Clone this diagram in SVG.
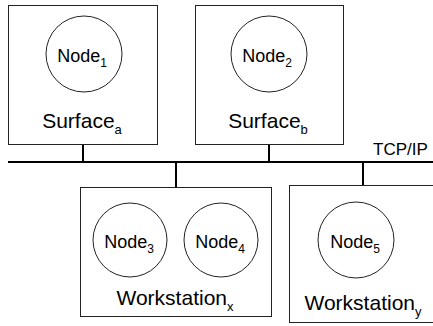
<svg xmlns="http://www.w3.org/2000/svg" width="433" height="326" viewBox="0 0 433 326">
<style>
.box{fill:#fff;stroke:#222;stroke-width:1}
.node{fill:#fff;stroke:#222;stroke-width:1}
.wire{fill:none;stroke:#000;stroke-width:2}
text{font-family:"Liberation Sans",Arial,sans-serif;fill:#000}
.n{font-size:18px}
.l{font-size:21px}
.s{font-size:12px}
.t{font-size:13px}
</style>
<rect width="433" height="326" fill="#fff"/>
<g id="connectors">
<line class="wire" x1="8" y1="162" x2="433" y2="162"/>
<line class="wire" x1="83" y1="144" x2="83" y2="162"/>
<line class="wire" x1="269" y1="145" x2="269" y2="162"/>
<line class="wire" x1="176" y1="162" x2="176" y2="187"/>
<line class="wire" x1="363" y1="162" x2="363" y2="185"/>
</g>
<g id="tcpip"><text x="373" y="155" font-size="17">TCP/IP</text></g>
<g id="surface_a">
<rect class="box" x="8.5" y="5.5" width="149" height="139"/>
<circle class="node" cx="84" cy="54" r="38"/>
<text class="n" x="82" y="62" text-anchor="middle">Node<tspan class="s" dy="5">1</tspan></text>
<text class="l" x="82" y="128" text-anchor="middle">Surface<tspan class="t" dy="6">a</tspan></text>
</g>
<g id="surface_b">
<rect class="box" x="195.5" y="5.5" width="148" height="139"/>
<circle class="node" cx="269" cy="54" r="38"/>
<text class="n" x="267" y="62" text-anchor="middle">Node<tspan class="s" dy="5">2</tspan></text>
<text class="l" x="268" y="128" text-anchor="middle">Surface<tspan class="t" dy="6">b</tspan></text>
</g>
<g id="workstation_x">
<rect class="box" x="80.5" y="187.5" width="191" height="129"/>
<circle class="node" cx="130" cy="240" r="37"/>
<text class="n" x="129" y="248" text-anchor="middle">Node<tspan class="s" dy="5">3</tspan></text>
<circle class="node" cx="221" cy="240" r="37"/>
<text class="n" x="220" y="248" text-anchor="middle">Node<tspan class="s" dy="5">4</tspan></text>
<text class="l" x="175" y="305" text-anchor="middle">Workstation<tspan class="t" dy="6">x</tspan></text>
</g>
<g id="workstation_y">
<rect class="box" x="289.5" y="185.5" width="150" height="137"/>
<circle class="node" cx="356" cy="240" r="38"/>
<text class="n" x="355" y="248" text-anchor="middle">Node<tspan class="s" dy="5">5</tspan></text>
<text class="l" x="363" y="310" text-anchor="middle">Workstation<tspan class="t" dy="6">y</tspan></text>
</g>
</svg>
